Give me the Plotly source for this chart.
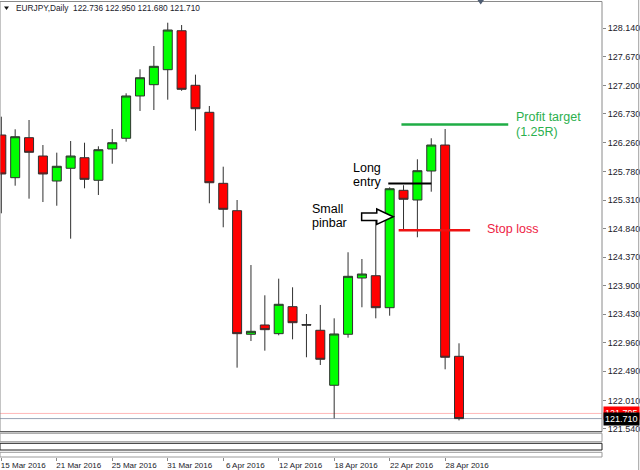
import plotly.graph_objects as go

# ---------------- data ----------------
dates = ["2016-03-15", "2016-03-16", "2016-03-17", "2016-03-18", "2016-03-21", "2016-03-22",
         "2016-03-23", "2016-03-24", "2016-03-25", "2016-03-28", "2016-03-29", "2016-03-30",
         "2016-03-31", "2016-04-01", "2016-04-04", "2016-04-05", "2016-04-06", "2016-04-07",
         "2016-04-08", "2016-04-11", "2016-04-12", "2016-04-13", "2016-04-14", "2016-04-15",
         "2016-04-18", "2016-04-19", "2016-04-20", "2016-04-21", "2016-04-22", "2016-04-25",
         "2016-04-26", "2016-04-27", "2016-04-28", "2016-04-29"]
open_ = [126.382, 125.679, 126.338, 126.036, 125.624, 125.834, 126.008, 125.636, 126.152, 126.328,
         127.025, 127.211, 127.458, 128.100, 127.201, 126.756, 125.586, 125.135, 123.099, 123.252,
         123.109, 123.554, 123.260, 123.165, 122.259, 123.099, 124.026, 124.064, 123.537, 125.471,
         125.311, 125.789, 126.217, 122.736]
high = [126.684, 126.476, 126.629, 126.217, 126.091, 126.283, 126.255, 126.196, 126.481, 127.069,
        127.465, 127.848, 128.232, 128.194, 127.376, 126.860, 125.860, 125.311, 124.240, 123.741,
        124.015, 123.873, 123.433, 123.582, 123.362, 124.450, 124.339, 125.000, 125.521, 125.554,
        125.982, 126.328, 126.481, 122.950]
low = [125.092, 125.547, 125.333, 125.278, 125.217, 124.674, 125.504, 125.394, 125.909, 126.272,
       126.778, 126.794, 126.964, 127.110, 126.453, 125.257, 124.862, 122.549, 122.988, 122.829,
       123.082, 123.016, 122.720, 122.593, 121.715, 123.043, 123.544, 123.362, 123.405, 124.817,
       124.697, 125.448, 122.522, 121.680]
close = [125.740, 126.354, 126.097, 125.740, 125.867, 126.036, 125.652, 126.140, 126.255, 127.025,
         127.326, 127.514, 128.112, 127.135, 126.815, 125.596, 125.158, 123.109, 123.148, 123.175,
         123.593, 123.290, 123.250, 122.687, 123.104, 124.054, 124.092, 123.537, 125.497, 125.323,
         125.794, 126.217, 122.720, 121.710]

tick_dates = ["2016-03-15", "2016-03-21", "2016-03-25", "2016-03-31", "2016-04-06",
              "2016-04-12", "2016-04-18", "2016-04-22", "2016-04-28"]
tick_labels = ["15 Mar 2016", "21 Mar 2016", "25 Mar 2016", "31 Mar 2016", "6 Apr 2016",
               "12 Apr 2016", "18 Apr 2016", "22 Apr 2016", "28 Apr 2016"]
price_ticks = [128.140, 127.670, 127.200, 126.730, 126.260, 125.780, 125.310, 124.840,
               124.370, 123.900, 123.430, 122.960, 122.490, 122.010, 121.540]

bid_price = 121.710
ask_price = 121.795
entry_price = 125.585
stop_price = 124.812
target_price = 126.555

# ---------------- layout helpers ----------------
W, H = 640, 470
ML, MR, MT, MB = 0, 38, 0, 13
PW = W - ML - MR
PH = H - MT - MB


def px_x(p):
    return p / PW


def px_y(p):
    return 1 - p / PH


xs = list(range(len(dates)))
tickvals = [dates.index(d) for d in tick_dates]

Y_TOP_PX, Y_BOT_PX = 1.5, 431.7
ydom = [px_y(Y_BOT_PX), px_y(Y_TOP_PX)]

FONT = "Liberation Sans, Arial, sans-serif"

fig = go.Figure()
fig.add_trace(go.Candlestick(
    x=xs, open=open_, high=high, low=low, close=close,
    increasing=dict(fillcolor="#00ff00", line=dict(color="#303030", width=1)),
    decreasing=dict(fillcolor="#ff0000", line=dict(color="#303030", width=1)),
    whiskerwidth=0, showlegend=False, hoverinfo="skip",
))

shapes = []
# price lines (ask / bid)
shapes.append(dict(type="line", xref="paper", yref="y", x0=0, x1=1, y0=ask_price, y1=ask_price,
                   line=dict(color="#ffb8b8", width=1), layer="below"))
shapes.append(dict(type="line", xref="paper", yref="y", x0=0, x1=1, y0=bid_price, y1=bid_price,
                   line=dict(color="#9aa3b5", width=1), layer="below"))
# trade lines
shapes.append(dict(type="line", xref="x", yref="y", x0=28.85, x1=36.55, y0=target_price, y1=target_price,
                   line=dict(color="#1fad45", width=2.5), layer="above"))
shapes.append(dict(type="line", xref="x", yref="y", x0=28.65, x1=33.8, y0=stop_price, y1=stop_price,
                   line=dict(color="#ee1111", width=2.5), layer="above"))
shapes.append(dict(type="line", xref="x", yref="y", x0=27.9, x1=31.0, y0=entry_price, y1=entry_price,
                   line=dict(color="#000000", width=2), layer="above"))
# hollow arrow (Small pinbar)
ax0, axh, axt = 25.98, 27.07, 28.26
ay, sh, hh = 125.036, 0.062, 0.127
arrow_path = (f"M {ax0},{ay+sh} L {axh},{ay+sh} L {axh},{ay+hh} L {axt},{ay} "
              f"L {axh},{ay-hh} L {axh},{ay-sh} L {ax0},{ay-sh} Z")
shapes.append(dict(type="path", xref="x", yref="y", path=arrow_path,
                   fillcolor="white", line=dict(color="#000000", width=1.5), layer="above"))

# main pane frame
shapes.append(dict(type="rect", xref="paper", yref="paper", x0=0, x1=1, y0=ydom[0], y1=ydom[1],
                   line=dict(color="#8a8a8a", width=1), layer="above"))
shapes.append(dict(type="line", xref="paper", yref="paper", x0=0, x1=1, y0=ydom[0], y1=ydom[0],
                   line=dict(color="#555555", width=1), layer="above"))
# indicator sub-panes
for (t, b, c) in [(433.3, 441.7, "#9a9a9a"), (443.3, 450.0, "#202020"), (452.3, 457.0, "#9a9a9a")]:
    shapes.append(dict(type="rect", xref="paper", yref="paper", x0=0, x1=1, y0=px_y(b), y1=px_y(t),
                       line=dict(color=c, width=1), layer="above"))
# right window edge
shapes.append(dict(type="line", xref="paper", yref="paper", x0=px_x(638.7), x1=px_x(638.7),
                   y0=px_y(470), y1=1, line=dict(color="#a0a0a0", width=1)))
# small triangles (header / shift marker)
shapes.append(dict(type="path", xref="paper", yref="paper",
                   path=f"M {px_x(4)},{px_y(6.5)} L {px_x(9)},{px_y(6.5)} L {px_x(6.5)},{px_y(10)} Z",
                   fillcolor="#111111", line=dict(width=0)))
shapes.append(dict(type="path", xref="paper", yref="paper",
                   path=f"M {px_x(477.5)},{px_y(0)} L {px_x(484)},{px_y(0)} L {px_x(480.7)},{px_y(4.5)} Z",
                   fillcolor="#4f5d73", line=dict(width=0)))

annotations = []
annotations.append(dict(xref="paper", yref="paper", x=px_x(13.5), y=px_y(8), xanchor="left", yanchor="middle",
                        text="EURJPY,Daily\u00a0\u00a0122.736 122.950 121.680 121.710", showarrow=False,
                        font=dict(family=FONT, size=8.3, color="#1a1a2a")))
# price boxes
annotations.append(dict(xref="paper", yref="y", x=px_x(603), y=ask_price, xanchor="left", yanchor="middle",
                        text="121.795", showarrow=False, bgcolor="#ff0000", borderpad=1,
                        font=dict(family=FONT, size=9, color="white")))
annotations.append(dict(xref="paper", yref="y", x=px_x(603), y=bid_price, xanchor="left", yanchor="middle",
                        text="121.710", showarrow=False, bgcolor="#000000", borderpad=1,
                        font=dict(family=FONT, size=9, color="white")))
# text labels
txt = [
    ("Profit target", 36.97, 126.684, "#2bb04e"),
    ("(1.25R)", 36.97, 126.427, "#2bb04e"),
    ("Stop loss", 34.87, 124.834, "#ee2244"),
    ("Long", 25.21, 125.834, "#000000"),
    ("entry", 25.21, 125.613, "#000000"),
    ("Small", 22.29, 125.163, "#000000"),
    ("pinbar", 22.29, 124.928, "#000000"),
]
for s, x, y, c in txt:
    annotations.append(dict(xref="x", yref="y", x=x, y=y, xanchor="left", yanchor="middle", text=s,
                            showarrow=False, font=dict(family=FONT, size=12.5, color=c)))

fig.update_layout(
    width=W, height=H,
    margin=dict(l=ML, r=MR, t=MT, b=MB, autoexpand=False),
    paper_bgcolor="white", plot_bgcolor="white",
    boxgap=0.35, boxgroupgap=0,
    shapes=shapes, annotations=annotations,
    font=dict(family=FONT, color="#1a1a2a"),
    xaxis=dict(range=[-0.094, 43.31], domain=[0, 1], anchor="free", position=0,
               tickmode="array", tickvals=tickvals, ticktext=tick_labels,
               ticks="outside", ticklen=3, tickcolor="#888888", ticklabelshift=22,
               ticklabelstandoff=-3,
               showgrid=False, zeroline=False, showline=False,
               tickfont=dict(family=FONT, size=8, color="#1a1a2a"),
               rangeslider=dict(visible=False), fixedrange=True),
    yaxis=dict(domain=ydom, range=[121.494, 128.5815], side="right",
               tickmode="array", tickvals=price_ticks, ticktext=[f"{v:.3f}" for v in price_ticks],
               ticks="outside", ticklen=3, tickcolor="#888888",
               showgrid=False, zeroline=False, showline=False,
               tickfont=dict(family=FONT, size=9, color="#1a1a2a"), fixedrange=True),
)

fig.write_html("out.html", config={"displayModeBar": False},
               post_script="document.body.style.margin='0';document.body.style.overflow='hidden';")
